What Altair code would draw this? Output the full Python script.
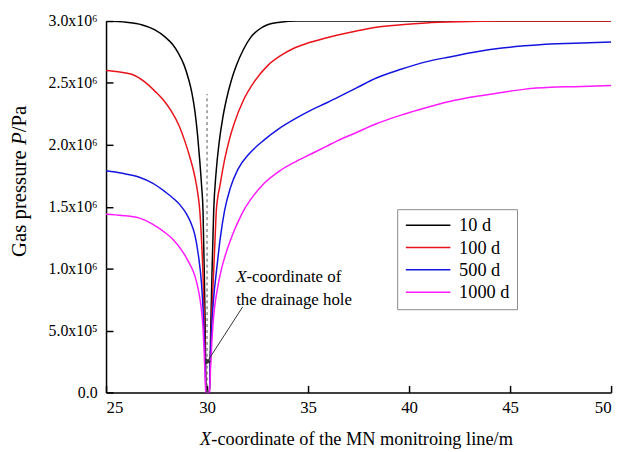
import altair as alt
import pandas as pd

FONT = "Liberation Serif"
W, H = 510, 375

series_names = ["10 d", "100 d", "500 d", "1000 d"]
series_colors = ["#000000", "#e8131b", "#1414e0", "#ff1aff"]

x_10 = [25.0, 26.0, 26.76, 27.4, 27.93, 28.3, 28.58, 28.85, 29.07, 29.25, 29.40, 29.53, 29.64, 29.73, 29.80,
        29.86, 29.91, 29.95, 30.12, 30.18, 30.25, 30.33, 30.45, 30.6, 30.78, 30.95, 31.2, 31.45, 31.8, 32.17,
        32.55, 32.99, 33.6, 34.46, 50.0]
p_10 = [3.00, 2.99, 2.97, 2.93, 2.87, 2.81, 2.74, 2.65, 2.54, 2.42, 2.27, 2.08, 1.87, 1.67, 1.47,
        1.00, 0.50, 0.00, 0.00, 0.50, 1.00, 1.47, 1.78, 2.02, 2.22, 2.36, 2.52, 2.64, 2.77, 2.87,
        2.93, 2.97, 2.99, 3.00, 3.00]

x_100 = [25.0, 25.6, 26.27, 26.9, 27.44, 27.85, 28.24, 28.6, 28.9, 29.15, 29.40, 29.53, 29.64, 29.72, 29.80,
         29.87, 29.92, 29.95, 30.12, 30.16, 30.22, 30.32, 30.40, 30.46, 30.65, 30.87, 31.1, 31.36, 31.8,
         32.34, 33.0, 33.64, 34.3, 34.95, 35.93, 36.42, 37.4, 38.38, 39.6, 40.83, 42.5, 44.5, 50.0]
p_100 = [2.60, 2.59, 2.57, 2.51, 2.43, 2.36, 2.27, 2.16, 2.03, 1.90, 1.74, 1.62, 1.47, 1.25, 0.95,
         0.55, 0.20, 0.00, 0.00, 0.20, 0.55, 0.95, 1.25, 1.47, 1.68, 1.88, 2.04, 2.18, 2.36,
         2.51, 2.64, 2.72, 2.78, 2.82, 2.865, 2.885, 2.92, 2.95, 2.97, 2.985, 2.995, 3.00, 3.00]

x_500 = [25.0, 25.8, 26.62, 27.3, 27.93, 28.35, 28.66, 28.99, 29.2, 29.40, 29.57, 29.72, 29.80, 29.85, 29.90,
         29.95, 30.12, 30.16, 30.22, 30.32, 30.48, 30.65, 30.87, 31.15, 31.52, 32.1, 32.83, 33.6, 34.46,
         35.2, 35.93, 36.42, 37.4, 38.38, 39.6, 40.83, 42.0, 43.28, 44.5, 45.74, 47.0, 48.19, 50.0]
p_500 = [1.79, 1.77, 1.74, 1.69, 1.62, 1.565, 1.515, 1.44, 1.37, 1.27, 1.11, 0.89, 0.68, 0.49, 0.25,
         0.00, 0.00, 0.25, 0.50, 0.75, 1.00, 1.24, 1.47, 1.65, 1.80, 1.93, 2.04, 2.135, 2.22,
         2.285, 2.34, 2.38, 2.46, 2.54, 2.61, 2.67, 2.71, 2.75, 2.78, 2.80, 2.815, 2.82, 2.83]

x_1000 = [25.0, 25.8, 26.62, 27.3, 27.93, 28.35, 28.74, 29.1, 29.40, 29.58, 29.72, 29.80, 29.85, 29.90, 29.93,
          29.95, 30.12, 30.13, 30.18, 30.29, 30.54, 30.75, 31.03, 31.3, 31.6, 31.85, 32.3, 32.83, 33.6,
          34.46, 35.2, 35.93, 36.42, 37.4, 38.38, 39.6, 40.83, 42.0, 43.28, 44.5, 45.74, 47.0, 48.19, 50.0]
p_1000 = [1.44, 1.43, 1.41, 1.36, 1.29, 1.23, 1.15, 1.05, 0.94, 0.82, 0.67, 0.52, 0.35, 0.15, 0.02,
          0.00, 0.00, 0.02, 0.22, 0.54, 0.86, 1.02, 1.17, 1.29, 1.40, 1.48, 1.59, 1.69, 1.79,
          1.87, 1.93, 1.99, 2.03, 2.10, 2.17, 2.24, 2.30, 2.35, 2.39, 2.42, 2.45, 2.465, 2.47, 2.48]

x_ticks = [25, 30, 35, 40, 45, 50]
y_ticks = [0, 5e5, 1e6, 1.5e6, 2e6, 2.5e6, 3e6]

hole_x = 30.0
hole_line_top = 2.41e6
arrow_from = (31.76, 0.69e6)
arrow_to = (30.02, 0.25e6)
annot_x = 31.95
annot_y = [0.93e6, 0.75e6]

rows = []
for name, xs, ps in [("10 d", x_10, p_10), ("100 d", x_100, p_100),
                     ("500 d", x_500, p_500), ("1000 d", x_1000, p_1000)]:
    for i, (xv, pv) in enumerate(zip(xs, ps)):
        rows.append({"series": name, "x": xv, "p": pv * 1e6, "order": i})
df = pd.DataFrame(rows)

xscale = alt.Scale(domain=[25, 50], nice=False, zero=False)
yscale = alt.Scale(domain=[0, 3e6], nice=False)

ylab = ("datum.value == 0 ? '0.0' : (datum.value < 1e6 ? format(datum.value/1e5, '.1f') + 'x10⁵' "
        ": format(datum.value/1e6, '.1f') + 'x10⁶')")

# inward ticks: negative tick size given as an expression (label offset = tickSize + padding)
X_AXIS = alt.Axis(orient="bottom", values=x_ticks, ticks=True, tickSize={"expr": "-7"},
                  tickWidth=1.5, tickColor="black", title=None, grid=False,
                  labelPadding=14, labelFontSize=17, labelFont=FONT,
                  domainColor="black", domainWidth=1.5, labelColor="black")
Y_AXIS = alt.Axis(orient="left", values=y_ticks, ticks=True, tickSize={"expr": "-7"},
                  tickWidth=1.5, tickColor="black", labelExpr=ylab, title=None,
                  grid=False, labelPadding=16, labelFontSize=16, labelFont=FONT,
                  domainColor="black", domainWidth=1.5, labelColor="black")


def X(field):
    return alt.X(field, type="quantitative", scale=xscale, axis=X_AXIS)


def Y(field):
    return alt.Y(field, type="quantitative", scale=yscale, axis=Y_AXIS)


lines = alt.Chart(df).mark_line(strokeWidth=1.5, clip=True, interpolate="monotone").encode(
    x=X("x"), y=Y("p"),
    color=alt.Color("series:N", scale=alt.Scale(domain=series_names, range=series_colors),
                    legend=alt.Legend(title=None, orient="none", legendX=294, legendY=190,
                                      symbolType="M-1,0H5", symbolSize=225, symbolStrokeWidth=1.5,
                                      labelFontSize=18.5, labelFont=FONT, labelOffset=37, rowPadding=3.5,
                                      padding=7, strokeColor="#8a8a8a", fillColor="white",
                                      labelColor="black")),
    order="order:Q",
)

hole = alt.Chart(pd.DataFrame({"x": [hole_x], "y0": [0.0], "y1": [hole_line_top]})).mark_rule(
    strokeDash=[3, 3], color="#555555", strokeWidth=1).encode(
    x=X("x"), y=Y("y0"), y2="y1:Q",
)

arrow_df = pd.DataFrame({"x": [arrow_from[0]], "y": [arrow_from[1]],
                         "x2": [arrow_to[0]], "y2": [arrow_to[1]]})
arrow_line = alt.Chart(arrow_df).mark_rule(color="#333333", strokeWidth=1).encode(
    x=X("x"), y=Y("y"), x2="x2:Q", y2="y2:Q",
)
arrow_head = alt.Chart(arrow_df).mark_point(shape="triangle", filled=True, size=45, angle=213,
                                            color="#333333", opacity=1).encode(
    x=X("x2"), y=Y("y2"),
)

# annotation, with italic X
annot_df = pd.DataFrame({"x": [annot_x, annot_x], "y": annot_y,
                         "t": ["-coordinate of", "the drainage hole"]})
annot_rest = alt.Chart(annot_df.iloc[[0]]).mark_text(
    align="left", baseline="middle", fontSize=17, font=FONT, color="black").encode(
    x=X("x"), y=Y("y"), text="t:N")
annot_l2 = alt.Chart(annot_df.iloc[[1]]).mark_text(
    align="left", baseline="middle", fontSize=17, font=FONT, color="black", dx=-10.4).encode(
    x=X("x"), y=Y("y"), text="t:N")
annot_X = alt.Chart(annot_df.iloc[[0]]).mark_text(
    align="right", baseline="middle", fontSize=17, font=FONT, fontStyle="italic", color="black").encode(
    x=X("x"), y=Y("y"), text=alt.value("X"))

# axis titles with italic symbols
XT_FS = 18.5
x_title_anchor = 95 + 0.61 * XT_FS
xt_X = alt.Chart(pd.DataFrame({"t": ["X"]})).mark_text(
    align="right", baseline="middle", fontSize=XT_FS, font=FONT, fontStyle="italic", color="black").encode(
    x=alt.value(x_title_anchor), y=alt.value(H + 47), text="t:N")
xt_rest = alt.Chart(pd.DataFrame({"t": ["-coordinate of the MN monitroing line/m"]})).mark_text(
    align="left", baseline="middle", fontSize=XT_FS, font=FONT, color="black").encode(
    x=alt.value(x_title_anchor), y=alt.value(H + 47), text="t:N")

YT_FS = 21
y_title_x = -87
seg1_end = 257 - 19 - 5.37 * YT_FS + 0.25 * YT_FS
seg2_start = seg1_end - 0.25 * YT_FS
seg3_start = seg2_start - 0.61 * YT_FS
yt1 = alt.Chart(pd.DataFrame({"t": ["Gas pressure"]})).mark_text(
    align="right", baseline="middle", angle=270, fontSize=YT_FS, font=FONT, color="black").encode(
    x=alt.value(y_title_x), y=alt.value(seg1_end), text="t:N")
yt2 = alt.Chart(pd.DataFrame({"t": ["P"]})).mark_text(
    align="left", baseline="middle", angle=270, fontSize=YT_FS, font=FONT, fontStyle="italic",
    color="black").encode(x=alt.value(y_title_x), y=alt.value(seg2_start), text="t:N")
yt3 = alt.Chart(pd.DataFrame({"t": ["/Pa"]})).mark_text(
    align="left", baseline="middle", angle=270, fontSize=YT_FS, font=FONT, color="black").encode(
    x=alt.value(y_title_x), y=alt.value(seg3_start), text="t:N")

chart = alt.layer(
    lines, hole, arrow_line, arrow_head, annot_X, annot_rest, annot_l2,
    xt_X, xt_rest, yt1, yt2, yt3
).properties(
    width=W, height=H,
    autosize=alt.AutoSizeParams(type="none"),
    padding={"left": 99, "top": 11, "right": 8, "bottom": 57},
    background="white",
).configure_view(stroke=None)

chart.save("out.html", embed_options={"renderer": "svg", "actions": False})
